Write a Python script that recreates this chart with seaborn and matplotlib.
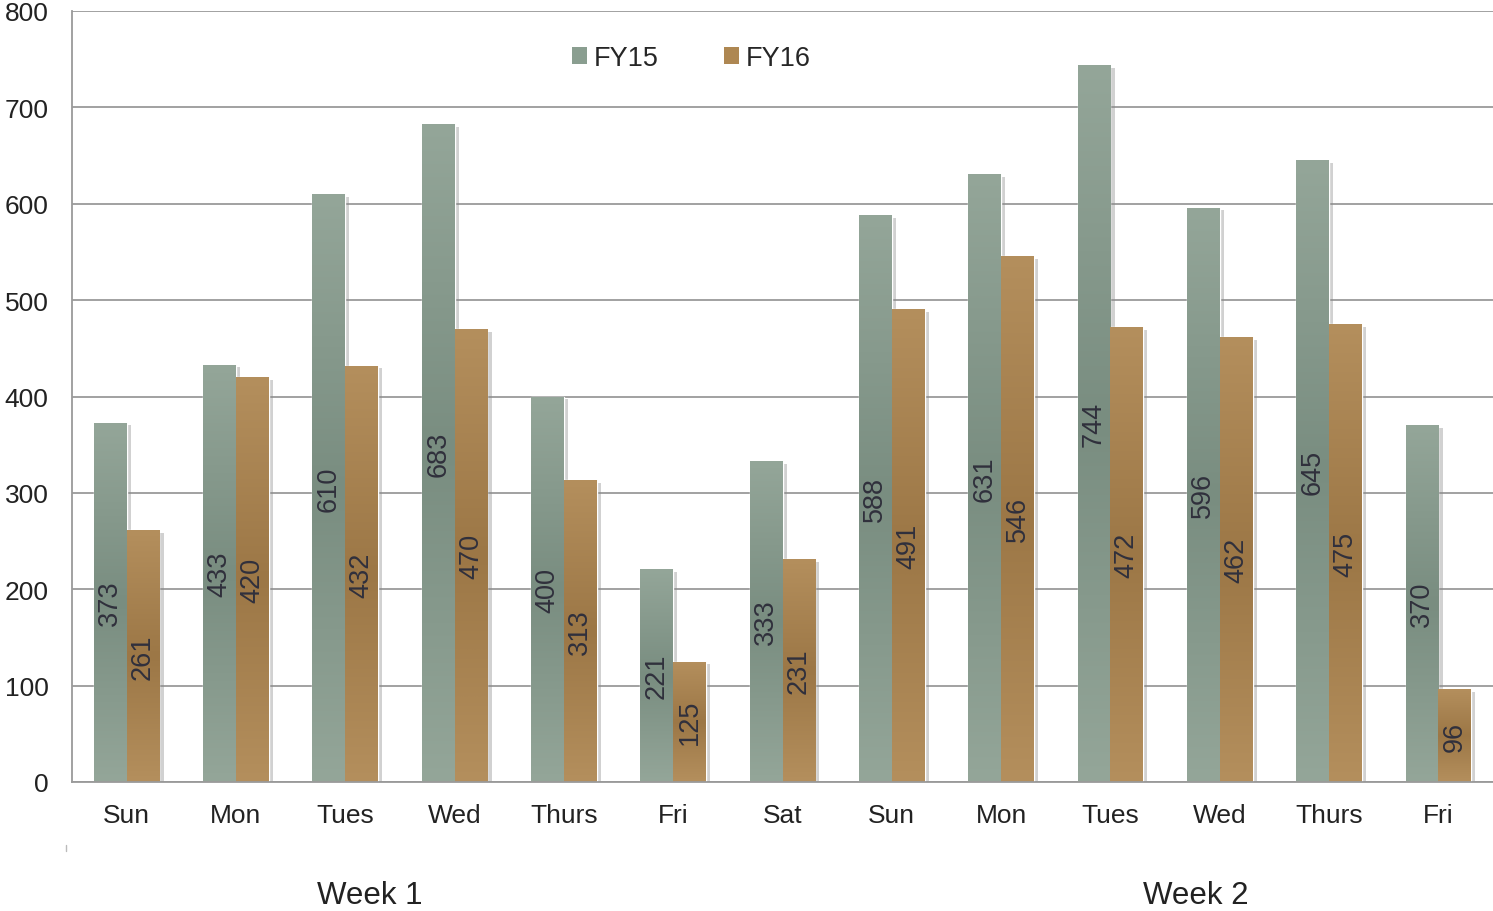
import numpy as np
import pandas as pd
import matplotlib
matplotlib.use("Agg")
import matplotlib.pyplot as plt
import matplotlib.patheffects as pe
from matplotlib.colors import LinearSegmentedColormap
from matplotlib.patches import Patch
import seaborn as sns

days = ["Sun", "Mon", "Tues", "Wed", "Thurs", "Fri", "Sat",
        "Sun", "Mon", "Tues", "Wed", "Thurs", "Fri"]
fy15 = [373, 433, 610, 683, 400, 221, 333, 588, 631, 744, 596, 645, 370]
fy16 = [261, 420, 432, 470, 313, 125, 231, 491, 546, 472, 462, 475, 96]
series = ["FY15", "FY16"]
weeks = ["Week 1", "Week 2"]

slots = list(range(len(days)))
df = pd.DataFrame({
    "slot": slots * 2,
    "value": fy15 + fy16,
    "series": ["FY15"] * len(days) + ["FY16"] * len(days),
})

sns.set_style("white")
plt.rcParams["font.family"] = ["Liberation Sans", "DejaVu Sans"]

base = {"FY15": "#8a9e90", "FY16": "#ae8752"}
grad = {
    "FY15": ["#94a699", "#798d80", "#94a699"],
    "FY16": ["#b48f5d", "#9c7746", "#b48f5d"],
}

fig = plt.figure(figsize=(14.93, 9.12), dpi=100)
ax = fig.add_axes([72 / 1493, 1 - 783 / 912, 1 - 72 / 1493, (783 - 12) / 912])

sns.barplot(data=df, x="slot", y="value", hue="series", hue_order=series,
            palette=base, width=0.6, dodge=True, legend=False, ax=ax,
            saturation=1, zorder=2)

# gradient fill + soft shadow on each bar
for cont, name in zip(ax.containers, series):
    cmap = LinearSegmentedColormap.from_list(name, grad[name])
    g = np.linspace(0, 1, 256).reshape(-1, 1)
    for bar in cont:
        bar.set_path_effects([pe.SimplePatchShadow(offset=(3, -2), shadow_rgbFace="#8c8c8c", alpha=0.4),
                              pe.Normal()])
        x0, y0 = bar.get_x(), bar.get_y()
        w, h = bar.get_width(), bar.get_height()
        im = ax.imshow(g, cmap=cmap, aspect="auto", extent=(x0, x0 + w, y0, y0 + h),
                       origin="upper", zorder=2.5, interpolation="bicubic")
        im.set_clip_path(bar)
    ax.bar_label(cont, label_type="center", rotation=90, fontsize=19.5,
                 color="#30303c", zorder=4)

ax.set_xlim(-0.5, len(days) - 0.5)
ax.set_ylim(0, 800)
ax.set_yticks(range(0, 801, 100))
ax.set_xticks(slots)
ax.set_xticklabels(days)
ax.set_xlabel("")
ax.set_ylabel("")
ax.tick_params(axis="both", length=0, labelsize=19, colors="#222222")
ax.tick_params(axis="y", pad=17)
ax.tick_params(axis="x", pad=15)
ax.yaxis.grid(True, color="#9a9a9a", linewidth=1.3, zorder=0)
ax.set_axisbelow(True)
for s in ["top", "right"]:
    ax.spines[s].set_visible(False)
for s in ["left", "bottom"]:
    ax.spines[s].set_color("#9a9a9a")
    ax.spines[s].set_linewidth(1.3)

handles = [Patch(facecolor=base[s], edgecolor="none", label=s) for s in series]
ax.legend(handles=handles, loc="center", bbox_to_anchor=(0.436, 0.939), ncol=2,
          frameon=False, fontsize=19.5, handlelength=0.55, handleheight=0.55,
          handletextpad=0.25, columnspacing=2.4)

ax.text(2.22, -0.147, weeks[0], transform=ax.get_xaxis_transform(),
        ha="center", va="center", fontsize=22.5, color="#222222")
ax.text(9.78, -0.147, weeks[1], transform=ax.get_xaxis_transform(),
        ha="center", va="center", fontsize=22.5, color="#222222")

# small stray tick below the axis, as in the source
fig.add_artist(plt.Line2D([66 / 1493, 66 / 1493], [1 - 852 / 912, 1 - 846 / 912],
                          color="#bbbbbb", linewidth=1))

fig.savefig("out.png", dpi=100)
